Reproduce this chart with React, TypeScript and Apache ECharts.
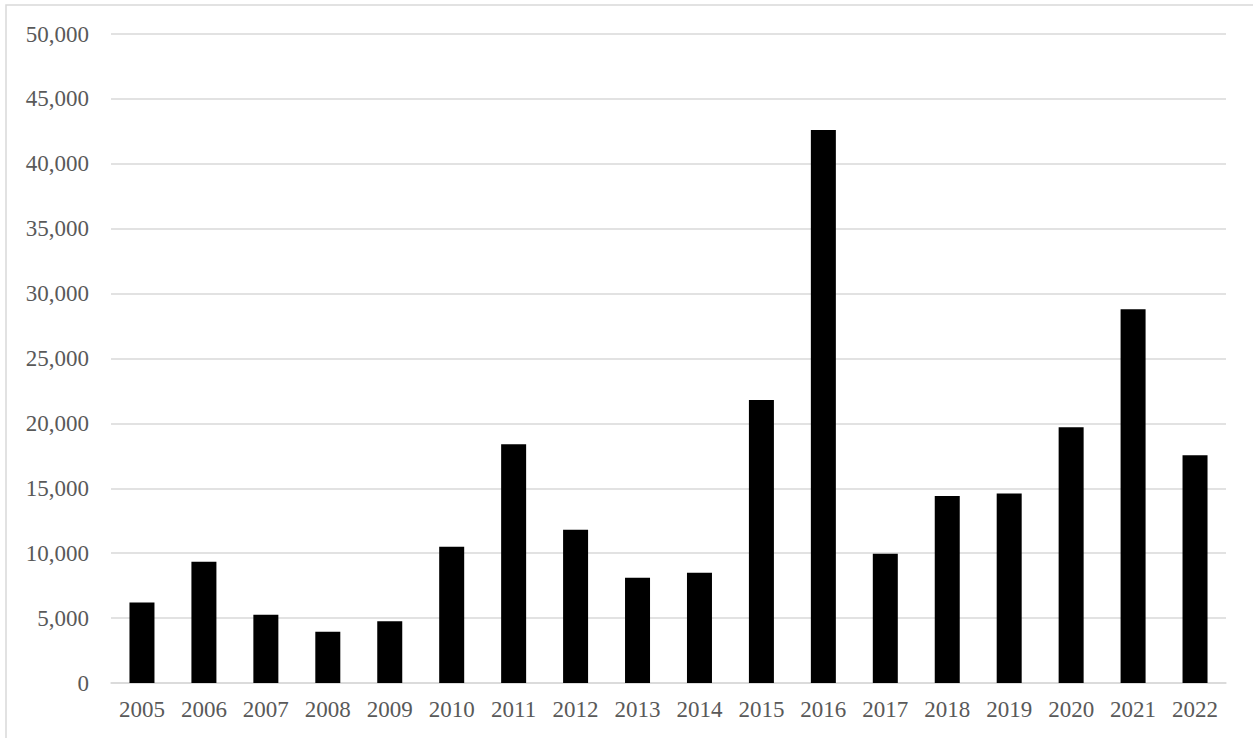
import React, { useEffect, useRef } from "react";
import * as echarts from "echarts";

const years = ["2005", "2006", "2007", "2008", "2009", "2010", "2011", "2012", "2013", "2014", "2015", "2016", "2017", "2018", "2019", "2020", "2021", "2022"];
const values = [6200, 9350, 5250, 3950, 4750, 10500, 18400, 11800, 8100, 8500, 21800, 42600, 9950, 14400, 14600, 19700, 28800, 17550];
const yMin = 0;
const yMax = 50000;
const yInterval = 5000;

export default function App() {
  const ref = useRef<HTMLDivElement>(null);
  useEffect(() => {
    if (!ref.current) return;
    const chart = echarts.init(ref.current, null, { renderer: "svg" });
    const font = "'Liberation Serif', 'Times New Roman', serif";
    chart.setOption({
      animation: false,
      backgroundColor: "#ffffff",
      grid: { left: 111, right: 27, top: 34, bottom: 55, containLabel: false },
      graphic: [
        {
          type: "rect",
          shape: { x: 6, y: 5, width: 1400, height: 900 },
          style: { fill: "none", stroke: "#d9d9d9", lineWidth: 1.5 },
          silent: true,
        },
      ],
      xAxis: {
        type: "category",
        data: years,
        axisLine: { show: true, lineStyle: { color: "#d9d9d9", width: 1.5 } },
        axisTick: { show: false },
        axisLabel: {
          color: "#595959",
          fontFamily: font,
          fontSize: 23,
          margin: 15,
          interval: 0,
          hideOverlap: false,
        },
      },
      yAxis: {
        type: "value",
        min: yMin,
        max: yMax,
        interval: yInterval,
        axisLine: { show: false },
        axisTick: { show: false },
        splitLine: { lineStyle: { color: "#d9d9d9", width: 1.5 } },
        axisLabel: {
          color: "#595959",
          fontFamily: font,
          fontSize: 23,
          margin: 22,
          formatter: (v: number) => v.toLocaleString("en-US"),
        },
      },
      series: [
        {
          type: "bar",
          data: values,
          barWidth: 25,
          itemStyle: { color: "#000000" },
        },
      ],
    });
    return () => chart.dispose();
  }, []);
  return (
    <div
      ref={ref}
      style={{ position: "absolute", left: 0, top: 0, width: 1253, height: 738 }}
    />
  );
}
